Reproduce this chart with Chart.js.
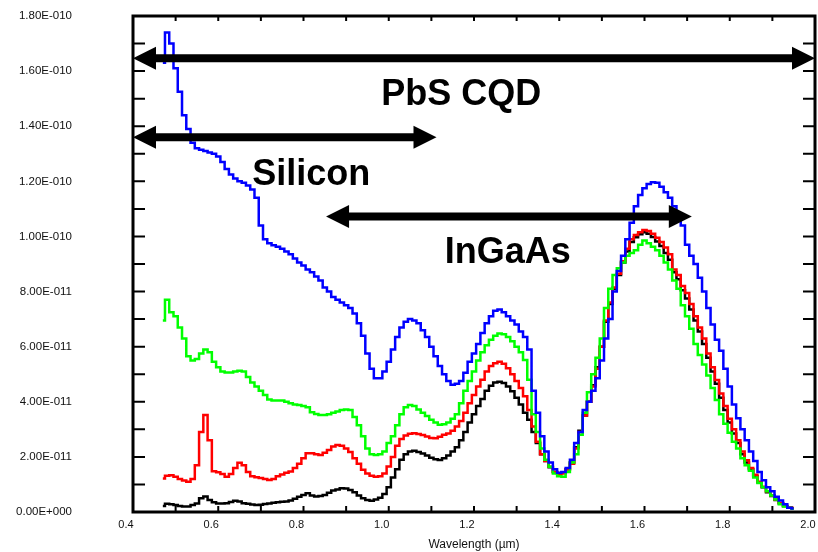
<!DOCTYPE html>
<html>
<head>
<meta charset="utf-8">
<script src="https://cdn.jsdelivr.net/npm/chart.js@4.4.1/dist/chart.umd.min.js"></script>
<style>
  html, body { margin: 0; padding: 0; background: #fff; }
</style>
</head>
<body>
<canvas id="myChart" width="818" height="552"></canvas>
<script>
// wavelength in µm
const wavelength = [
    0.47, 0.48, 0.49, 0.50, 0.51, 0.52, 0.53, 0.54, 0.55, 0.56,
    0.57, 0.58, 0.59, 0.60, 0.61, 0.62, 0.63, 0.64, 0.65, 0.66,
    0.67, 0.68, 0.69, 0.70, 0.71, 0.72, 0.73, 0.74, 0.75, 0.76,
    0.77, 0.78, 0.79, 0.80, 0.81, 0.82, 0.83, 0.84, 0.85, 0.86,
    0.87, 0.88, 0.89, 0.90, 0.91, 0.92, 0.93, 0.94, 0.95, 0.96,
    0.97, 0.98, 0.99, 1.00, 1.01, 1.02, 1.03, 1.04, 1.05, 1.06,
    1.07, 1.08, 1.09, 1.10, 1.11, 1.12, 1.13, 1.14, 1.15, 1.16,
    1.17, 1.18, 1.19, 1.20, 1.21, 1.22, 1.23, 1.24, 1.25, 1.26,
    1.27, 1.28, 1.29, 1.30, 1.31, 1.32, 1.33, 1.34, 1.35, 1.36,
    1.37, 1.38, 1.39, 1.40, 1.41, 1.42, 1.43, 1.44, 1.45, 1.46,
    1.47, 1.48, 1.49, 1.50, 1.51, 1.52, 1.53, 1.54, 1.55, 1.56,
    1.57, 1.58, 1.59, 1.60, 1.61, 1.62, 1.63, 1.64, 1.65, 1.66,
    1.67, 1.68, 1.69, 1.70, 1.71, 1.72, 1.73, 1.74, 1.75, 1.76,
    1.77, 1.78, 1.79, 1.80, 1.81, 1.82, 1.83, 1.84, 1.85, 1.86,
    1.87, 1.88, 1.89, 1.90, 1.91, 1.92, 1.93, 1.94, 1.95
];

// signal, in units of 1E-011
const blueSignal = [
    16.3, 17.4, 17.0, 16.1, 15.25, 14.4, 13.9, 13.4, 13.2, 13.15,
    13.1, 13.05, 13.0, 12.9, 12.7, 12.45, 12.25, 12.1, 12.0, 11.95,
    11.85, 11.7, 11.4, 10.4, 9.9, 9.75, 9.68, 9.63, 9.55, 9.45,
    9.35, 9.2, 9.05, 8.95, 8.8, 8.7, 8.55, 8.4, 8.15, 8.0,
    7.8, 7.7, 7.6, 7.5, 7.4, 7.2, 6.85, 6.4, 5.75, 5.2,
    4.85, 4.85, 5.1, 5.45, 5.9, 6.35, 6.7, 6.9, 7.0, 6.95,
    6.85, 6.6, 6.35, 6.0, 5.65, 5.3, 5.0, 4.75, 4.62, 4.65,
    4.75, 5.05, 5.45, 5.75, 6.1, 6.5, 6.85, 7.1, 7.3, 7.35,
    7.25, 7.1, 6.95, 6.8, 6.55, 6.35, 5.9, 4.4, 3.6, 2.75,
    2.2, 1.8, 1.55, 1.42, 1.45, 1.6, 1.9, 2.5, 2.9, 3.7,
    4.0, 4.4, 4.85, 5.5, 6.3, 7.0, 8.0, 8.75, 9.3, 9.9,
    10.5, 11.1, 11.5, 11.75, 11.9, 11.97, 11.95, 11.8, 11.6, 11.4,
    11.1, 10.8, 10.4, 9.7, 9.3, 9.0, 8.5, 8.0, 7.4, 6.8,
    6.25, 5.85, 5.2, 4.55, 3.9, 3.4, 3.0, 2.6, 2.2, 1.85,
    1.45, 1.15, 0.9, 0.75, 0.55, 0.42, 0.28, 0.15, 0.13
];

const greenSignal = [
    6.95, 7.7, 7.25, 7.1, 6.7, 6.3, 5.65, 5.5, 5.55, 5.75,
    5.9, 5.8, 5.45, 5.25, 5.1, 5.06, 5.06, 5.1, 5.13, 5.1,
    4.9, 4.7, 4.55, 4.4, 4.25, 4.08, 4.05, 4.05, 4.05, 4.0,
    3.95, 3.9, 3.88, 3.85, 3.8, 3.62, 3.56, 3.52, 3.52, 3.55,
    3.6, 3.65, 3.7, 3.72, 3.7, 3.45, 3.15, 2.75, 2.3, 2.1,
    2.07, 2.1, 2.2, 2.5, 2.75, 3.15, 3.55, 3.8, 3.88, 3.85,
    3.72, 3.6, 3.48, 3.35, 3.25, 3.17, 3.18, 3.25, 3.38, 3.55,
    3.95, 4.4, 4.75, 5.1, 5.5, 5.8, 6.05, 6.25, 6.4, 6.48,
    6.45, 6.35, 6.2, 6.0, 5.8, 5.52, 4.8, 3.55, 2.9, 2.3,
    1.9, 1.64, 1.4, 1.3, 1.28, 1.45, 1.8, 2.1, 2.8, 3.6,
    4.35, 5.0, 5.6, 6.3, 7.4, 8.1, 8.6, 8.85, 9.05, 9.3,
    9.4, 9.5, 9.7, 9.85, 9.75, 9.63, 9.5, 9.3, 9.05, 8.8,
    8.4, 8.1, 7.5, 7.1, 6.65, 6.1, 5.7, 5.35, 4.95, 4.5,
    4.06, 3.55, 3.2, 2.88, 2.55, 2.3, 1.95, 1.7, 1.5, 1.25,
    1.05, 0.9, 0.75, 0.6, 0.45, 0.28, 0.2, 0.15, 0.12
];

const redSignal = [
    1.22, 1.32, 1.33, 1.28, 1.2, 1.14, 1.1, 1.2, 1.7, 2.9,
    3.52, 2.6, 1.48, 1.44, 1.38, 1.28, 1.38, 1.6, 1.79, 1.7,
    1.45, 1.3, 1.26, 1.23, 1.2, 1.16, 1.2, 1.3, 1.36, 1.42,
    1.47, 1.6, 1.75, 1.95, 2.13, 2.13, 2.1, 2.07, 2.15, 2.25,
    2.38, 2.43, 2.4, 2.3, 2.18, 1.95, 1.75, 1.53, 1.4, 1.32,
    1.28, 1.3, 1.4, 1.65, 2.0, 2.4, 2.65, 2.78, 2.84, 2.86,
    2.83, 2.79, 2.74, 2.69, 2.68, 2.73, 2.8, 2.85, 2.95, 3.1,
    3.3, 3.6, 3.95, 4.25, 4.55, 4.8, 5.1, 5.3, 5.4, 5.45,
    5.38, 5.22, 5.0, 4.75, 4.5, 4.2, 3.7, 3.1, 2.55, 2.1,
    1.85, 1.64, 1.45, 1.4, 1.4, 1.55, 1.75, 2.3, 2.9, 3.5,
    4.0, 4.55, 5.2, 6.0, 6.95, 7.6, 8.15, 8.65, 9.1, 9.55,
    9.9, 10.05, 10.15, 10.23, 10.2, 10.1, 9.95, 9.8, 9.6, 9.35,
    8.8, 8.6, 8.2, 7.95, 7.55, 7.1, 6.7, 6.3, 5.75, 5.25,
    4.79, 4.3, 3.85, 3.38, 3.0, 2.6, 2.2, 1.88, 1.6, 1.35,
    1.1, 0.92, 0.75, 0.6, 0.45, 0.33, 0.22, 0.17, 0.15
];

const blackSignal = [
    0.22, 0.3, 0.28, 0.25, 0.22, 0.2, 0.2, 0.25, 0.31, 0.5,
    0.56, 0.44, 0.35, 0.31, 0.31, 0.32, 0.36, 0.41, 0.38, 0.32,
    0.3, 0.27, 0.25, 0.26, 0.29, 0.31, 0.34, 0.35, 0.37, 0.38,
    0.42, 0.48, 0.55, 0.62, 0.68, 0.6, 0.56, 0.58, 0.62, 0.7,
    0.78, 0.82, 0.86, 0.85, 0.8, 0.72, 0.6, 0.5, 0.44, 0.41,
    0.45, 0.52, 0.65, 0.9, 1.25, 1.55, 1.9, 2.1, 2.2, 2.22,
    2.18, 2.12, 2.05, 1.97, 1.91, 1.89, 1.95, 2.05, 2.2, 2.35,
    2.6, 2.9, 3.25, 3.55, 3.85, 4.1, 4.4, 4.58, 4.7, 4.73,
    4.68, 4.55, 4.38, 4.15, 3.9, 3.6, 3.35, 2.9, 2.5, 2.1,
    1.85, 1.62, 1.45, 1.4, 1.42, 1.55, 1.8, 2.35, 2.95, 3.5,
    4.0, 4.6, 5.25, 6.0, 6.9, 7.55, 8.1, 8.6, 9.05, 9.45,
    9.8, 9.97, 10.08, 10.15, 10.1, 9.98, 9.82, 9.65, 9.4, 9.15,
    8.7, 8.45, 8.05, 7.75, 7.35, 6.95, 6.55, 6.1, 5.6, 5.1,
    4.65, 4.15, 3.7, 3.25, 2.85, 2.5, 2.1, 1.8, 1.55, 1.3,
    1.08, 0.9, 0.72, 0.58, 0.44, 0.32, 0.22, 0.16, 0.14
];

// detector ranges (µm) and the level (1E-011) where the arrow sits
const bandNames = ['PbS CQD', 'Silicon', 'InGaAs'];
const bandFrom = [0.4, 0.4, 0.853];
const bandTo = [2.0, 1.112, 1.711];
const bandLevel = [16.47, 13.6, 10.72];
// where each band name is written (centre x in µm, baseline in 1E-011)
const bandLabelX = [1.17, 0.818, 1.279];
const bandLabelY = [14.77, 11.87, 9.04];

const FONT = 'Arial, "Liberation Sans", sans-serif';

function toPoints(values) {
    return values.map((v, i) => ({ x: wavelength[i], y: v }));
}

function sciLabel(v) {
    if (Math.abs(v) < 1e-9) return '0.00E+000';
    if (v >= 10) return (v / 10).toFixed(2) + 'E-010';
    return v.toFixed(2) + 'E-011';
}

// frame, inward ticks, arrows and band names
const overlay = {
    id: 'overlay',
    afterDatasetsDraw(chart) {
        const { ctx, chartArea: a, scales: { x, y } } = chart;
        ctx.save();
        ctx.strokeStyle = '#000';
        ctx.fillStyle = '#000';

        ctx.lineWidth = 2;
        x.ticks.forEach(t => {
            const px = x.getPixelForValue(t.value);
            ctx.beginPath();
            ctx.moveTo(px, a.bottom);
            ctx.lineTo(px, a.bottom - 6);
            ctx.moveTo(px, a.top);
            ctx.lineTo(px, a.top + 5);
            ctx.stroke();
        });
        y.ticks.forEach(t => {
            const py = y.getPixelForValue(t.value);
            ctx.beginPath();
            ctx.moveTo(a.left, py);
            ctx.lineTo(a.left + 12, py);
            ctx.moveTo(a.right, py);
            ctx.lineTo(a.right - 12, py);
            ctx.stroke();
        });

        ctx.lineWidth = 3;
        ctx.strokeRect(a.left, a.top, a.right - a.left, a.bottom - a.top);

        const head = 23, half = 11.5;
        bandNames.forEach((name, i) => {
            const x1 = x.getPixelForValue(bandFrom[i]);
            const x2 = x.getPixelForValue(bandTo[i]);
            const py = y.getPixelForValue(bandLevel[i]);
            ctx.lineWidth = 8;
            ctx.beginPath();
            ctx.moveTo(x1 + head - 2, py);
            ctx.lineTo(x2 - head + 2, py);
            ctx.stroke();
            ctx.beginPath();
            ctx.moveTo(x1, py);
            ctx.lineTo(x1 + head, py - half);
            ctx.lineTo(x1 + head, py + half);
            ctx.closePath();
            ctx.fill();
            ctx.beginPath();
            ctx.moveTo(x2, py);
            ctx.lineTo(x2 - head, py - half);
            ctx.lineTo(x2 - head, py + half);
            ctx.closePath();
            ctx.fill();

            ctx.font = 'bold 36px ' + FONT;
            ctx.textAlign = 'center';
            ctx.textBaseline = 'alphabetic';
            ctx.fillText(name, x.getPixelForValue(bandLabelX[i]), y.getPixelForValue(bandLabelY[i]));
        });
        ctx.restore();
    }
};

const lineStyle = {
    pointRadius: 0,
    borderWidth: 2.5,
    stepped: 'middle',
    fill: false
};

const ctx = document.getElementById('myChart').getContext('2d');
const myChart = new Chart(ctx, {
    type: 'line',
    data: {
        datasets: [
            { label: 'blue', data: toPoints(blueSignal), borderColor: '#0000ff', ...lineStyle },
            { label: 'green', data: toPoints(greenSignal), borderColor: '#00ff00', ...lineStyle },
            { label: 'red', data: toPoints(redSignal), borderColor: '#ff0000', ...lineStyle },
            { label: 'black', data: toPoints(blackSignal), borderColor: '#000000', ...lineStyle }
        ]
    },
    options: {
        responsive: false,
        animation: false,
        layout: { padding: { top: 16, right: 3, left: 0, bottom: 0 } },
        plugins: {
            legend: { display: false },
            tooltip: { enabled: false }
        },
        scales: {
            x: {
                type: 'linear',
                min: 0.4,
                max: 2.0,
                grid: { display: false, drawTicks: false },
                border: { display: false },
                ticks: {
                    stepSize: 0.1,
                    autoSkip: false,
                    maxRotation: 0,
                    padding: 6,
                    labelOffset: -7,
                    color: '#111',
                    font: { family: FONT, size: 11 },
                    callback: v => (Math.round(v * 10) % 2 === 0 ? v.toFixed(1) : '')
                },
                title: {
                    display: true,
                    text: 'Wavelength (µm)',
                    color: '#111',
                    padding: { top: 0, bottom: 0 },
                    font: { family: FONT, size: 12 }
                },
                afterFit: scale => {
                    scale.height = 40;
                    scale.paddingLeft = 0;
                    scale.paddingRight = 0;
                }
            },
            y: {
                min: 0,
                max: 18,
                grid: { display: false, drawTicks: false },
                border: { display: false },
                ticks: {
                    stepSize: 1,
                    autoSkip: false,
                    padding: 61,
                    color: '#111',
                    font: { family: FONT, size: 11.5 },
                    callback: v => (Math.round(v) % 2 === 0 ? sciLabel(v) : '')
                },
                afterFit: scale => {
                    scale.width = 133;
                    scale.paddingTop = 0;
                    scale.paddingBottom = 0;
                }
            }
        }
    },
    plugins: [overlay]
});
</script>
</body>
</html>
